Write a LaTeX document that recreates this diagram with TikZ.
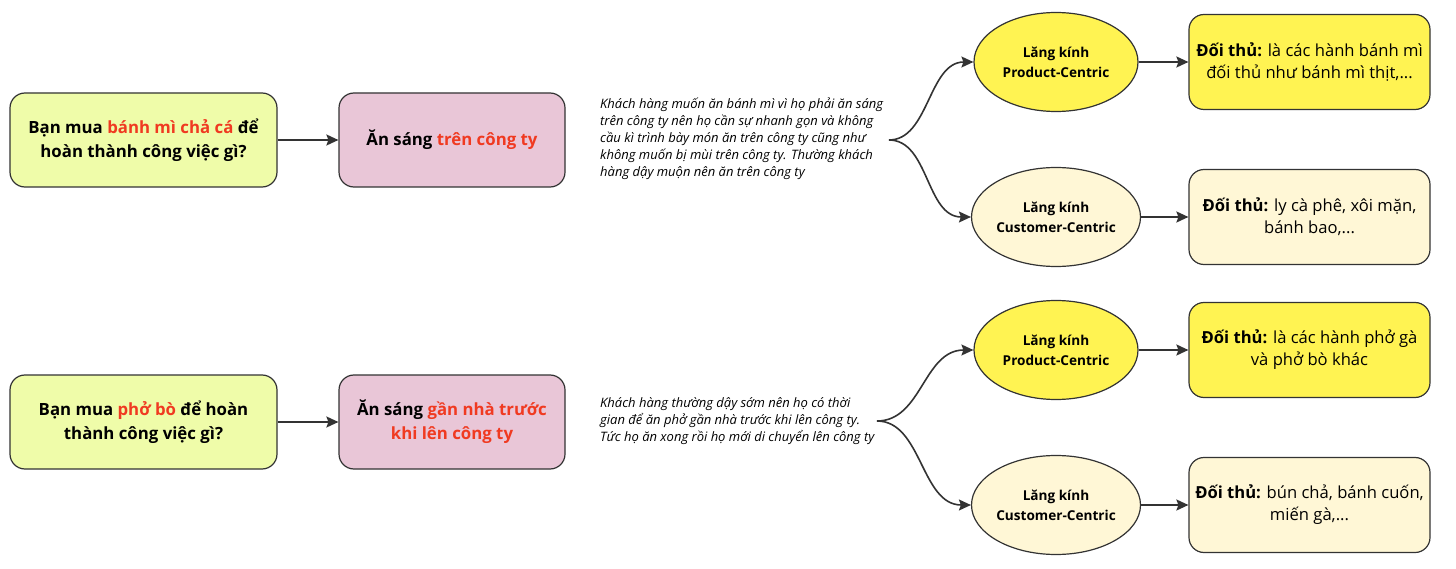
\documentclass[tikz,border=0pt]{standalone}
\usepackage{fontspec}
\setmainfont{Open Sans}
\usetikzlibrary{arrows.meta,shapes.geometric}
\definecolor{linec}{HTML}{333333}
\definecolor{redt}{HTML}{F03A21}
\definecolor{limef}{HTML}{EFFCA9}
\definecolor{pinkf}{HTML}{E9C6D7}
\definecolor{yelf}{HTML}{FFF352}
\definecolor{creamf}{HTML}{FFF7D6}
\tikzset{
  qbox/.style={draw=linec, line width=1.2pt, rounded corners=15pt, minimum width=267pt, minimum height=94pt, inner sep=0pt, align=center, font=\bfseries\fontsize{16.8}{24}\selectfont, fill=limef},
  jbox/.style={qbox, minimum width=226pt, fill=pinkf},
  lens/.style={draw=linec, line width=1.2pt, ellipse, minimum width=164pt, minimum height=99pt, inner sep=0pt, align=center, font=\bfseries\fontsize{13.6}{20}\selectfont},
  cbox/.style={draw=linec, line width=1.2pt, rounded corners=15pt, minimum width=241pt, minimum height=95pt, inner sep=0pt, align=center, font=\fontsize{16.6}{22}\selectfont},
  note/.style={anchor=west, align=left, inner sep=0pt, font=\itshape\fontsize{13}{17}\selectfont},
  arr/.style={draw=linec, line width=1.8pt, -{Stealth[length=12pt,width=11pt,inset=2pt]}},
  barr/.style={draw=linec, line width=1.6pt, -{Stealth[length=12pt,width=11pt,inset=2pt]}},
}
\begin{document}
\begin{tikzpicture}[x=1pt,y=-1pt]
\useasboundingbox (0,0) rectangle (1456,569);
\fill[white] (0,0) rectangle (1456,569);

% top row
\node[qbox] (A1) at (143.5,140) {Bạn mua \textcolor{redt}{bánh mì chả cá} để\\hoàn thành công việc gì?};
\node[jbox] (B1) at (452,140) {Ăn sáng \textcolor{redt}{trên công ty}};
\node[note] (T1) at (600,139) {Khách hàng muốn ăn bánh mì vì họ phải ăn sáng\\trên công ty nên họ cần sự nhanh gọn và không\\cầu kì trình bày món ăn trên công ty cũng như\\không muốn bị mùi trên công ty. Thường khách\\hàng dậy muộn nên ăn trên công ty};
\coordinate (P1) at (889,140);
\node[lens, fill=yelf] (E1) at (1056,62) {Lăng kính\\Product-Centric};
\node[lens, fill=creamf] (E2) at (1056,217) {Lăng kính\\Customer-Centric};
\node[cbox, fill=yelf] (C1) at (1309.5,62) {\textbf{Đối thủ:} là các hành bánh mì\\đối thủ như bánh mì thịt,...};
\node[cbox, fill=creamf] (C2) at (1309.5,217) {\textbf{Đối thủ:} ly cà phê, xôi mặn,\\bánh bao,...};

% bottom row
\node[qbox] (A2) at (143.5,422) {Bạn mua \textcolor{redt}{phở bò} để hoàn\\thành công việc gì?};
\node[jbox] (B2) at (452,422) {Ăn sáng \textcolor{redt}{gần nhà trước}\\\textcolor{redt}{khi lên công ty}};
\node[note] (T2) at (600,421) {Khách hàng thường dậy sớm nên họ có thời\\gian để ăn phở gần nhà trước khi lên công ty.\\Tức họ ăn xong rồi họ mới di chuyển lên công ty};
\coordinate (P2) at (877,421);
\node[lens, fill=yelf] (E3) at (1056,350) {Lăng kính\\Product-Centric};
\node[lens, fill=creamf] (E4) at (1056,505) {Lăng kính\\Customer-Centric};
\node[cbox, fill=yelf] (C3) at (1309.5,350) {\textbf{Đối thủ:} là các hành phở gà\\và phở bò khác};
\node[cbox, fill=creamf] (C4) at (1309.5,505) {\textbf{Đối thủ:} bún chả, bánh cuốn,\\miến gà,...};

% connectors
\draw[arr] (A1) -- (B1);
\draw[arr] (A2) -- (B2);
\draw[arr] (E1) -- (C1);
\draw[arr] (E2) -- (C2);
\draw[arr] (E3) -- (C3);
\draw[arr] (E4) -- (C4);
\draw[barr] (P1) .. controls +(40,0) and +(-45,0) .. (E1.west);
\draw[barr] (P1) .. controls +(40,0) and +(-45,0) .. (E2.west);
\draw[barr] (P2) .. controls +(45,0) and +(-50,0) .. (E3.west);
\draw[barr] (P2) .. controls +(45,0) and +(-50,0) .. (E4.west);
\end{tikzpicture}
\end{document}
